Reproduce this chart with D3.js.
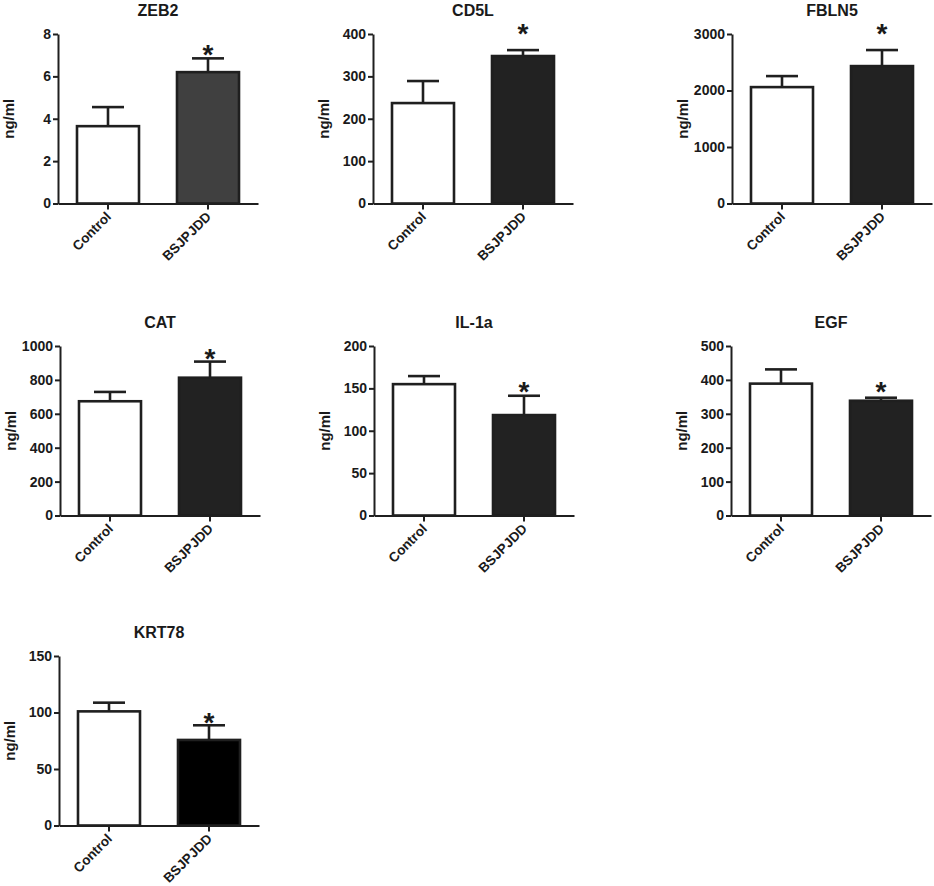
<!DOCTYPE html>
<meta charset="utf-8">
<style>
body { margin: 0; background: #fff; }
text { font-family: "Liberation Sans", Arial, sans-serif; font-weight: bold; fill: #1a1a1a; }
</style>
<body>
<script src="https://d3js.org/d3.v7.min.js"></script>
<script>

// groups shown on every panel
var groups = ["Control", "BSJPJDD"];

// one entry per panel, in reading order
var titles   = ["ZEB2", "CD5L", "FBLN5", "CAT", "IL-1a", "EGF", "KRT78"];
var yMax     = [8, 400, 3000, 1000, 200, 500, 150];
var yTicks   = [
  [0, 2, 4, 6, 8],
  [0, 100, 200, 300, 400],
  [0, 1000, 2000, 3000],
  [0, 200, 400, 600, 800, 1000],
  [0, 50, 100, 150, 200],
  [0, 100, 200, 300, 400, 500],
  [0, 50, 100, 150]
];
var controlMean = [3.65, 237, 2060, 674, 155, 389, 101];
var controlErr  = [4.55, 289, 2255, 729, 164.5, 431, 108.7];
var treatMean   = [6.2, 348, 2432, 813, 118.5, 338.5, 75.7];
var treatErr    = [6.85, 362, 2716, 908, 141.3, 347.4, 88.7];
// height (in data units) where the significance star sits
var starAt      = [7.34, 416, 3124, 964, 154, 385, 97];
var treatFill   = ["#404040", "#222", "#222", "#222", "#222", "#222", "#000"];

var W = 934, H = 886;
var svg = d3.select("body").append("svg")
    .attr("width", W)
    .attr("height", H);

// where each panel's y axis sits and where its plot area starts
var axisX = [58, 373, 732, 60, 374, 731, 59];
var plotTop = [34, 34, 34, 346, 346, 346, 656];
var plotH = 169.5, plotW = 200;

var ink = "#1f1f1f";

titles.forEach(function(name, i) {
  var g = svg.append("g")
      .attr("transform", "translate(" + axisX[i] + "," + plotTop[i] + ")");

  var x = d3.scaleBand()
      .domain(groups)
      .range([0, plotW])
      .paddingInner(0.38)
      .paddingOuter(0.19);

  var y = d3.scaleLinear()
      .domain([0, yMax[i]])
      .range([plotH, 0]);

  var means = [controlMean[i], treatMean[i]];
  var errs = [controlErr[i], treatErr[i]];

  // error bars first, bars drawn over them
  var capW = 32;
  groups.forEach(function(gr, j) {
    var cx = x(gr) + x.bandwidth() / 2;
    g.append("line")
        .attr("x1", cx).attr("x2", cx)
        .attr("y1", y(means[j])).attr("y2", y(errs[j]))
        .attr("stroke", ink).attr("stroke-width", 2.6);
    g.append("line")
        .attr("x1", cx - capW / 2).attr("x2", cx + capW / 2)
        .attr("y1", y(errs[j])).attr("y2", y(errs[j]))
        .attr("stroke", ink).attr("stroke-width", 2.6);
  });

  g.selectAll("rect.bar")
    .data(groups)
    .enter().append("rect")
      .attr("class", "bar")
      .attr("x", function(d) { return x(d); })
      .attr("width", x.bandwidth())
      .attr("y", function(d, j) { return y(means[j]); })
      .attr("height", function(d, j) { return plotH - y(means[j]); })
      .attr("fill", function(d, j) { return j === 0 ? "#fff" : treatFill[i]; })
      .attr("stroke", ink)
      .attr("stroke-width", 2.6);

  // y axis
  var yAxis = g.append("g")
      .call(d3.axisLeft(y).tickValues(yTicks[i]).tickFormat(d3.format("d"))
        .tickSize(5).tickPadding(2).tickSizeOuter(0));
  yAxis.select(".domain").attr("stroke", ink).attr("stroke-width", 2);
  yAxis.selectAll(".tick line").attr("stroke", ink).attr("stroke-width", 2);
  yAxis.selectAll(".tick text")
      .attr("font-size", 14)
      .attr("font-family", "Liberation Sans, Arial, sans-serif")
      .attr("font-weight", "bold")
      .attr("fill", "#1a1a1a");

  // x axis
  var xAxis = g.append("g")
      .attr("transform", "translate(0," + plotH + ")")
      .call(d3.axisBottom(x).tickSize(6).tickSizeOuter(0).tickFormat(""));
  xAxis.select(".domain").attr("stroke", ink).attr("stroke-width", 2);
  xAxis.selectAll(".tick line").attr("stroke", ink).attr("stroke-width", 2);

  g.selectAll("text.xlab")
    .data(groups)
    .enter().append("text")
      .attr("class", "xlab")
      .attr("transform", function(d) {
        return "translate(" + (x(d) + x.bandwidth() / 2 + 4) + "," + (plotH + 14) + ") rotate(-45)";
      })
      .attr("text-anchor", "end")
      .attr("font-size", 13.5)
      .text(function(d) { return d; });

  // y label
  g.append("text")
      .attr("transform", "translate(" + (-44) + "," + (plotH / 2) + ") rotate(-90)")
      .attr("text-anchor", "middle")
      .attr("font-size", 15)
      .text("ng/ml");

  // title
  g.append("text")
      .attr("x", plotW / 2)
      .attr("y", -18.5)
      .attr("text-anchor", "middle")
      .attr("font-size", 16)
      .text(name);

  // significance star
  g.append("text")
      .attr("x", x(groups[1]) + x.bandwidth() / 2)
      .attr("y", y(starAt[i]) + 16)
      .attr("text-anchor", "middle")
      .attr("font-size", 28)
      .text("*");
});

</script>
</body>
